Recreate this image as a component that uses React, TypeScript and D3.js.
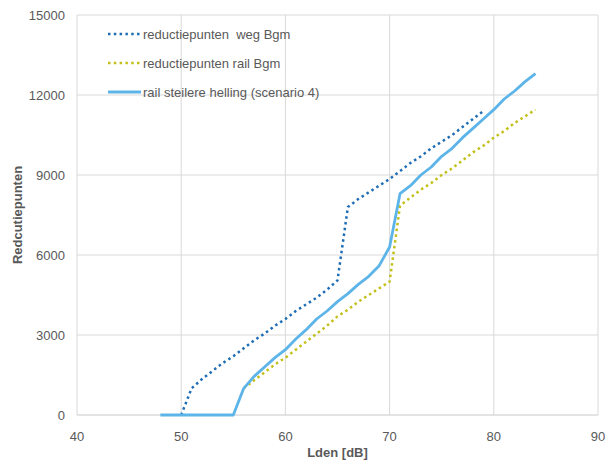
import React from "react";
import * as d3 from "d3";

const xTicks = [40, 50, 60, 70, 80, 90];
const yTicks = [0, 3000, 6000, 9000, 12000, 15000];

const wegX = [50, 51, 52, 53, 54, 55, 56, 57, 58, 59, 60, 61, 62, 63, 64, 65, 66, 67, 68, 69, 70, 71, 72, 73, 74, 75, 76, 77, 78, 79];
const wegY = [0, 1000, 1350, 1650, 1950, 2200, 2500, 2800, 3050, 3350, 3600, 3900, 4150, 4400, 4700, 5050, 7800, 8100, 8350, 8600, 8850, 9150, 9450, 9700, 10000, 10250, 10500, 10800, 11100, 11400];

const railX = [56, 57, 58, 59, 60, 61, 62, 63, 64, 65, 66, 67, 68, 69, 70, 71, 72, 73, 74, 75, 76, 77, 78, 79, 80, 81, 82, 83, 84];
const railY = [1000, 1300, 1600, 1900, 2150, 2450, 2750, 3050, 3350, 3700, 3950, 4250, 4500, 4750, 5000, 7850, 8150, 8450, 8700, 9000, 9250, 9550, 9850, 10100, 10400, 10650, 10950, 11200, 11450];

const steilX = [48, 49, 50, 51, 52, 53, 54, 55, 56, 57, 58, 59, 60, 61, 62, 63, 64, 65, 66, 67, 68, 69, 70, 71, 72, 73, 74, 75, 76, 77, 78, 79, 80, 81, 82, 83, 84];
const steilY = [0, 0, 0, 0, 0, 0, 0, 0, 1000, 1450, 1800, 2150, 2450, 2850, 3200, 3600, 3900, 4250, 4550, 4900, 5200, 5600, 6300, 8300, 8600, 9000, 9300, 9700, 10000, 10400, 10750, 11100, 11450, 11850, 12150, 12500, 12800];

const seriesNames = ["reductiepunten  weg Bgm", "reductiepunten rail Bgm", "rail steilere helling (scenario 4)"];

export default function App() {
  const W = 612, H = 463;
  const x = d3.scaleLinear().domain([40, 90]).range([77, 598]);
  const y = d3.scaleLinear().domain([0, 15000]).range([415, 15]);
  const line = d3.line<[number, number]>().x(d => x(d[0])).y(d => y(d[1]));
  const zip = (a: number[], b: number[]) => a.map((v, i) => [v, b[i]] as [number, number]);
  const font = "'Liberation Sans', Arial, sans-serif";
  const grey = "#595959";
  const grid = "#d9d9d9";
  const styles = [
    { stroke: "#1f6db5", width: 2.5, dash: "2.5 3.3" },
    { stroke: "#c2c018", width: 2.5, dash: "2.5 3.3" },
    { stroke: "#5db4e8", width: 2.8, dash: "" },
  ];
  const data = [zip(wegX, wegY), zip(railX, railY), zip(steilX, steilY)];
  return (
    <svg width={W} height={H} style={{ position: "absolute", left: 0, top: 0, background: "#fff" }} fontFamily={font}>
      {xTicks.map(t => (
        <line key={"gx" + t} x1={x(t)} x2={x(t)} y1={y(0)} y2={y(15000)} stroke={grid} strokeWidth={1} />
      ))}
      {yTicks.map(t => (
        <line key={"gy" + t} x1={x(40)} x2={x(90)} y1={y(t)} y2={y(t)} stroke={t === 0 ? "#c8c8c8" : grid} strokeWidth={1} />
      ))}
      {xTicks.map(t => (
        <text key={"tx" + t} x={x(t)} y={y(0) + 26} textAnchor="middle" fontSize={13} fill={grey}>{t}</text>
      ))}
      {yTicks.map(t => (
        <text key={"ty" + t} x={x(40) - 12} y={y(t) + 5} textAnchor="end" fontSize={13} fill={grey}>{t}</text>
      ))}
      <text x={(x(40) + x(90)) / 2} y={457} textAnchor="middle" fontSize={13} fontWeight="bold" fill={grey}>Lden [dB]</text>
      <text transform={`translate(22,${(y(0) + y(15000)) / 2}) rotate(-90)`} textAnchor="middle" fontSize={13} fontWeight="bold" fill={grey}>Redcutiepunten</text>
      {data.map((d, i) => (
        <path key={"s" + i} d={line(d) || ""} fill="none" stroke={styles[i].stroke} strokeWidth={styles[i].width} strokeDasharray={styles[i].dash || undefined} strokeLinejoin="round" />
      ))}
      {seriesNames.map((n, i) => (
        <g key={"l" + i} transform={`translate(108,${34 + i * 29})`}>
          <line x1={0} x2={33} y1={0} y2={0} stroke={styles[i].stroke} strokeWidth={styles[i].width} strokeDasharray={styles[i].dash || undefined} />
          <text x={35} y={4.5} fontSize={13} fill={grey} style={{ whiteSpace: "pre" }}>{n}</text>
        </g>
      ))}
    </svg>
  );
}
